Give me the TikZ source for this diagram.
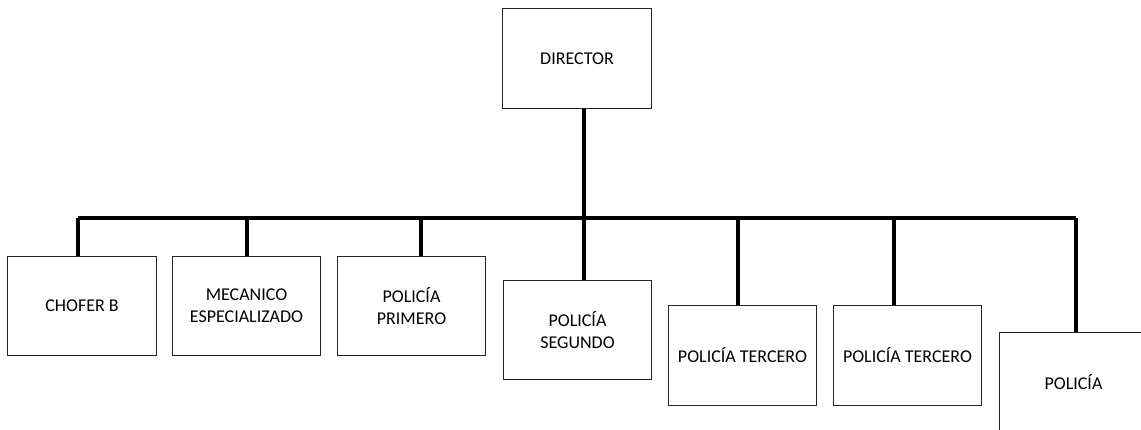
\documentclass[tikz,border=0pt]{standalone}
\usepackage{fontspec}
\setmainfont{Carlito}
\begin{document}
\begin{tikzpicture}[x=1pt,y=-1pt,
  box/.style={draw=black!85, line width=1.1pt, fill=white, minimum width=148.5pt, minimum height=99.5pt,
    inner sep=0pt, align=center, font=\fontsize{18}{21.7}\selectfont},
  conn/.style={draw=black, line width=3.2pt}]
\useasboundingbox (0,0) rectangle (1141,430);
\begin{scope}
\clip (0,0) rectangle (1141,430);
\node[box] (dir) at (577,58.5) {DIRECTOR};
\node[box] (cho) at (82,306) {CHOFER B};
\node[box] (mec) at (246.5,306) {MECANICO\\ESPECIALIZADO};
\node[box] (pri) at (411.5,306) {POLICÍA\\PRIMERO};
\node[box] (seg) at (577.5,330) {POLICÍA\\SEGUNDO};
\node[box] (te1) at (742.5,355.5) {POLICÍA TERCERO};
\node[box] (te2) at (907.5,355.5) {POLICÍA TERCERO};
\node[box] (pol) at (1073.5,382) {POLICÍA};
\coordinate (j) at (584,218);
\draw[conn] (dir.south -| j) -- (seg.north -| j);
\draw[conn] ([xshift=-4pt]cho.north |- j) -- ([xshift=2.5pt]pol.north |- j);
\draw[conn] ([xshift=-4pt]cho.north) -- ([xshift=-4pt]cho.north |- j);
\draw[conn] ([xshift=0.5pt]mec.north) -- ([xshift=0.5pt]mec.north |- j);
\draw[conn] ([xshift=9.5pt]pri.north) -- ([xshift=9.5pt]pri.north |- j);
\draw[conn] ([xshift=-4.5pt]te1.north) -- ([xshift=-4.5pt]te1.north |- j);
\draw[conn] ([xshift=-13.5pt]te2.north) -- ([xshift=-13.5pt]te2.north |- j);
\draw[conn] ([xshift=2.5pt]pol.north) -- ([xshift=2.5pt]pol.north |- j);
\end{scope}
\end{tikzpicture}
\end{document}
